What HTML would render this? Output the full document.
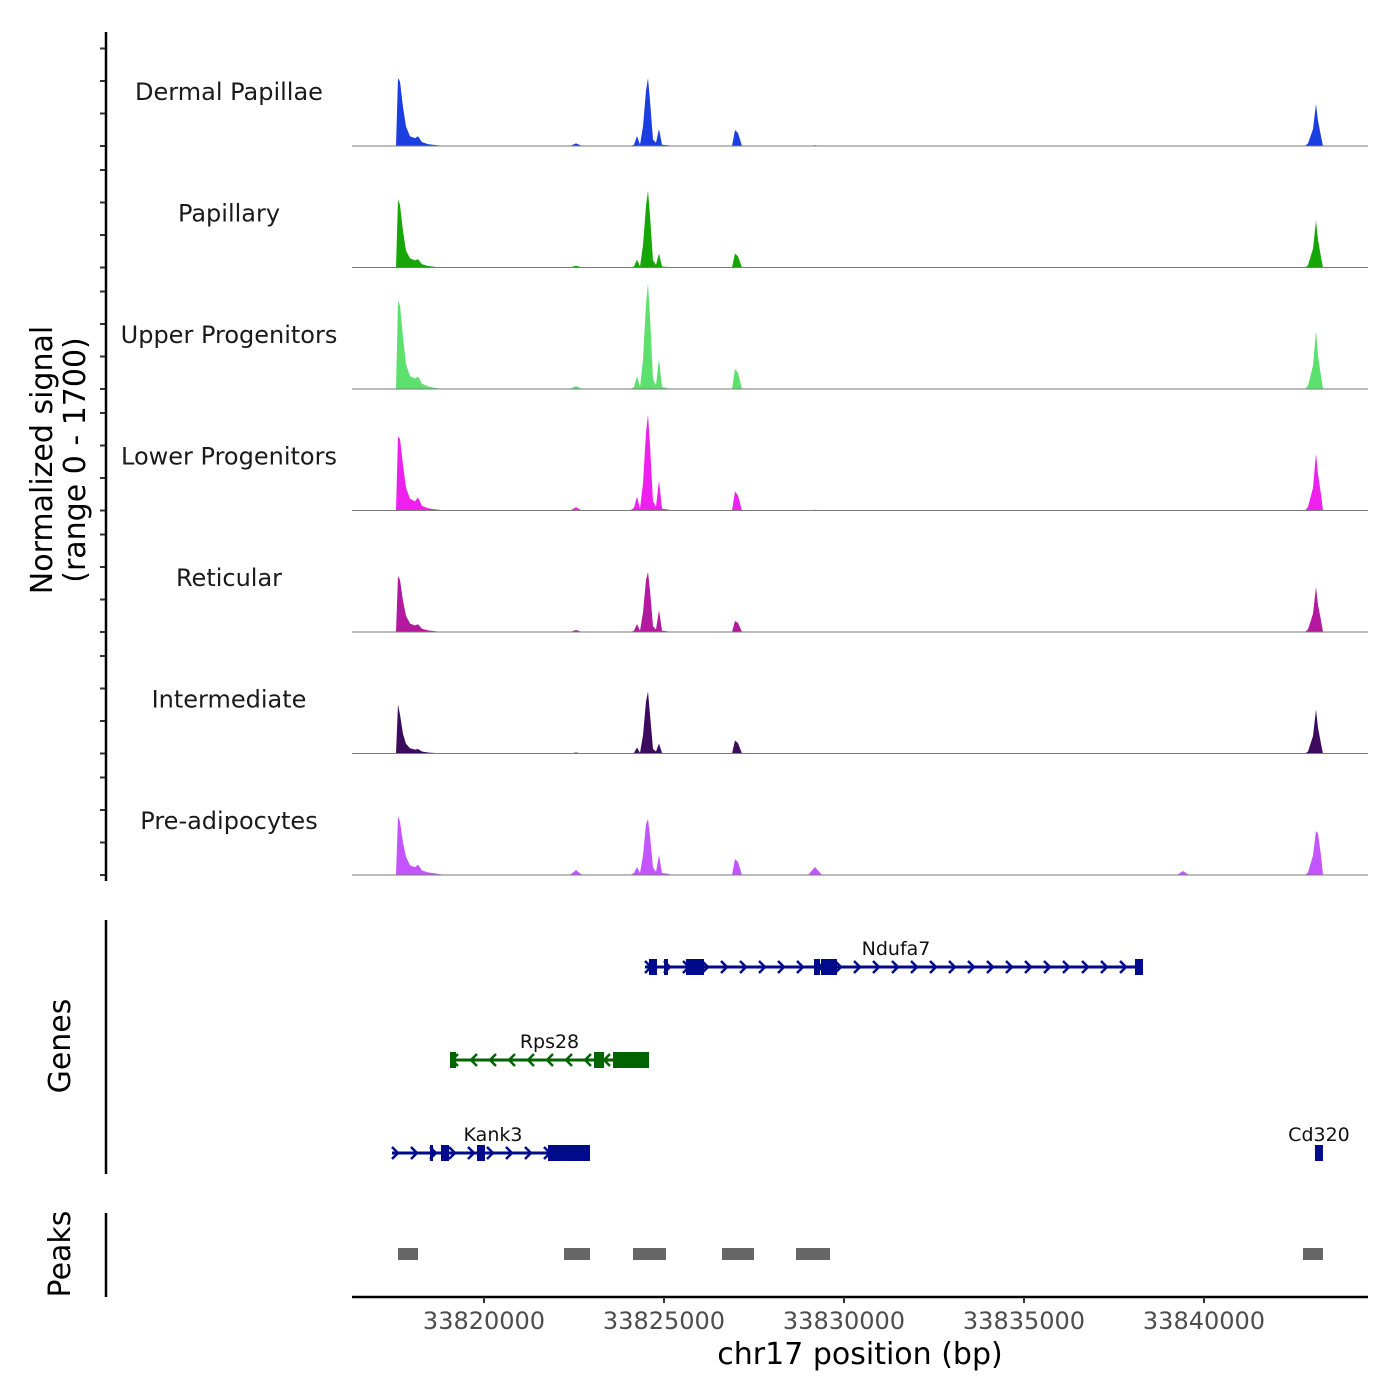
<!DOCTYPE html>
<html><head><meta charset="utf-8">
<style>
body{margin:0;background:#fff;}
svg{display:block;font-family:"DejaVu Sans","Liberation Sans",sans-serif;}
</style></head>
<body>
<svg id="chart" width="1400" height="1400" viewBox="0 0 1400 1400">
<g id="tracks"></g>
<g id="genes"></g>
<g id="peaks"></g>
<g id="axes"></g>
</svg>
<script>
// ---- data ----
const trackNames = ["Dermal Papillae","Papillary","Upper Progenitors","Lower Progenitors","Reticular","Intermediate","Pre-adipocytes"];
const trackColors = ["#1a3ee0","#16a608","#5ce06e","#ee20ee","#b3189f","#3c0b5e","#c354ff"];
const binPos = [33817555,33817611,33817667,33817750,33817833,33817944,33818083,33818167,33818278,33818444,33818639,33818917,
  33822389,33822555,33822722,
  33824055,33824167,33824250,33824333,33824417,33824500,33824555,33824611,33824694,33824778,33824861,33824944,33825111,33825222,
  33826889,33826972,33827055,33827167,
  33828999,33829194,33829389,
  33839250,33839417,33839583,
  33842805,33842889,33843028,33843111,33843167,33843250,33843305];
const sigDermal = [0,1046,990,600,300,150,120,150,60,30,15,0, 0,40,0, 0,20,154,20,300,850,1046,700,100,50,262,20,10,0, 0,246,200,0, 0,10,0, 0,5,0, 0,40,260,646,390,150,0];
const sigPapillary = [0,1046,960,560,260,140,110,130,50,25,10,0, 0,30,0, 0,15,123,15,340,950,1185,800,110,40,215,15,8,0, 0,215,170,0, 0,8,0, 0,4,0, 0,35,290,723,430,160,0];
const sigUpper = [0,1354,1280,800,380,200,160,190,80,40,15,0, 0,46,0, 0,30,200,30,450,1300,1630,1100,150,60,460,30,12,0, 0,308,250,0, 0,10,0, 0,5,0, 0,50,360,892,520,200,0];
const sigLower = [0,1138,1100,700,350,180,140,200,70,35,20,0, 0,50,0, 0,40,215,30,420,1200,1477,1000,140,60,460,30,15,0, 0,292,230,0, 0,12,0, 0,8,0, 0,55,350,877,560,250,0];
const sigReticular = [0,862,800,480,250,130,100,120,50,25,12,0, 0,30,0, 0,20,123,20,300,800,923,640,90,40,338,20,10,0, 0,169,140,0, 0,8,0, 0,5,0, 0,40,280,692,420,180,0];
const sigIntermediate = [0,754,600,300,150,80,60,70,30,15,8,0, 0,15,0, 0,10,92,10,280,800,954,600,70,30,154,10,5,0, 0,200,160,0, 0,5,0, 0,3,0, 0,30,270,677,400,150,0];
const sigPreadipo = [0,908,820,500,280,150,120,160,70,40,25,0, 0,77,0, 0,30,123,30,300,780,862,600,120,50,308,30,20,0, 0,246,200,0, 0,123,0, 0,62,0, 0,40,300,677,640,300,0];
const signals = [sigDermal,sigPapillary,sigUpper,sigLower,sigReticular,sigIntermediate,sigPreadipo];
const yTickValues = [0,500,1000,1500];
const xTickValues = [33820000,33825000,33830000,33835000,33840000];
const geneNames = ["Ndufa7","Rps28","Kank3","Cd320"];
const geneStarts = [33824472,33819055,33817444,33843083];
const geneEnds = [33838306,33824583,33822944,33843305];
const geneStrands = ["+","-","+","+"];
const geneRows = [0,1,2,2];
const geneColors = ["#000b8c","#006400","#000b8c","#000b8c"];
const exonsNdufa7 = [[33824583,33824805],[33825000,33825111],[33825611,33826111],[33829167,33829333],[33829361,33829805],[33838083,33838306]];
const exonsRps28 = [[33819055,33819222],[33823055,33823333],[33823583,33824583]];
const exonsKank3 = [[33818500,33818583],[33818805,33819028],[33819805,33820028],[33821778,33822305],[33822305,33822944]];
const exonsCd320 = [[33843083,33843305]];
const geneExons = [exonsNdufa7,exonsRps28,exonsKank3,exonsCd320];
const peakStarts = [33817611,33822222,33824139,33826611,33828666,33842750];
const peakEnds = [33818167,33822944,33825055,33827500,33829611,33843305];

// ---- scales ----
const X0=352, X1=1368, BP0=33816333, BP1=33844556;
const xs = bp => X0 + (bp-BP0)/(BP1-BP0)*(X1-X0);
const baseY = i => 146 + i*121.5;
const ys = (i,v) => baseY(i) - v*0.065;
const NS="http://www.w3.org/2000/svg";
function mk(tag, attrs, parent){const e=document.createElementNS(NS,tag);for(const k in attrs)e.setAttribute(k,attrs[k]);parent.appendChild(e);return e;}

const gT=document.getElementById('tracks');
signals.forEach((s,i)=>{
  const b=baseY(i);
  let d=`M${xs(binPos[0])},${b}`;
  s.forEach((v,j)=>{d+=`L${xs(binPos[j]).toFixed(1)},${ys(i,v).toFixed(1)}`;});
  d+=`L${xs(binPos[binPos.length-1])},${b}Z`;
  const p=mk('path',{d:d,fill:trackColors[i]},gT);
  
  
  const l=mk('line',{x1:X0,x2:X1,y1:b,y2:b,stroke:'#7a7a7a','stroke-width':1},gT);
  
  
  const t=mk('text',{x:229,y:b-46,'text-anchor':'middle','font-size':24,fill:'#1a1a1a'},gT);
  t.textContent=trackNames[i];
  
  
  yTickValues.forEach(v=>{
    const tk=mk('line',{x1:100,x2:106,y1:ys(i,v),y2:ys(i,v),stroke:'#333','stroke-width':2},gT);
    
    
  });
});

// genes
const gG=document.getElementById('genes');
const rowY=[967,1060,1153];
geneNames.forEach((n,i)=>{
  const y=rowY[geneRows[i]], c=geneColors[i];
  const x1=xs(geneStarts[i]), x2=xs(geneEnds[i]);
  const g=mk('g',{},gG);
  
  
  mk('line',{x1:x1,x2:x2,y1:y,y2:y,stroke:c,'stroke-width':3},g);
  for(let x=x1+4;x<x2-4;x+=19){
    const dir=geneStrands[i]=="+"?1:-1;
    mk('polyline',{points:`${x-4*dir},${y-6} ${x+2*dir},${y} ${x-4*dir},${y+6}`,fill:'none',stroke:c,'stroke-width':2.5},g);
  }
  geneExons[i].forEach(e=>{
    mk('rect',{x:xs(e[0]),y:y-8,width:Math.max(3,xs(e[1])-xs(e[0])),height:16,fill:c},g);
  });
  const t=mk('text',{x:(x1+x2)/2+ (n=="Ndufa7"?2:0),y:y-12,'text-anchor':'middle','font-size':19,fill:'#111'},g);
  if(n=="Kank3") t.setAttribute('x',493);
  t.textContent=n;
});

// peaks
const gP=document.getElementById('peaks');
peakStarts.forEach((s,i)=>{
  const r=mk('rect',{x:xs(s),y:1248,width:xs(peakEnds[i])-xs(s),height:12,fill:'#666'},gP);
  
  
});

// axes
const gA=document.getElementById('axes');
function ax(name,attrs){const e=mk('line',attrs,gA);return e;}
ax('y-axis-line',{x1:106,x2:106,y1:32,y2:881,stroke:'#000','stroke-width':2.5});
ax('genes-axis-line',{x1:106,x2:106,y1:920,y2:1174,stroke:'#000','stroke-width':2.5});
ax('peaks-axis-line',{x1:106,x2:106,y1:1213,y2:1297,stroke:'#000','stroke-width':2.5});
ax('x-axis-line',{x1:X0,x2:X1,y1:1297,y2:1297,stroke:'#000','stroke-width':2.5});
xTickValues.forEach(v=>{
  ax('x-tick',{x1:xs(v),x2:xs(v),y1:1297,y2:1303,stroke:'#333','stroke-width':2});
  const t=mk('text',{x:xs(v),y:1329,'text-anchor':'middle','font-size':24,fill:'#4d4d4d'},gA);
  t.textContent=v;
  
  
});
const xt=mk('text',{x:860,y:1364,'text-anchor':'middle','font-size':30,fill:'#000'},gA);
xt.textContent='chr17 position (bp)';


const yt=mk('text',{transform:'translate(52,460) rotate(-90)','text-anchor':'middle','font-size':30,fill:'#000'},gA);


const s1=mk('tspan',{x:0,y:0},yt); s1.textContent='Normalized signal';
const s2=mk('tspan',{x:0,y:33},yt); s2.textContent='(range 0 - 1700)';
const gl=mk('text',{transform:'translate(70,1046) rotate(-90)','text-anchor':'middle','font-size':30,fill:'#000'},gA);
gl.textContent='Genes';


const pl=mk('text',{transform:'translate(70,1254) rotate(-90)','text-anchor':'middle','font-size':30,fill:'#000'},gA);
pl.textContent='Peaks';


</script>
</body></html>
